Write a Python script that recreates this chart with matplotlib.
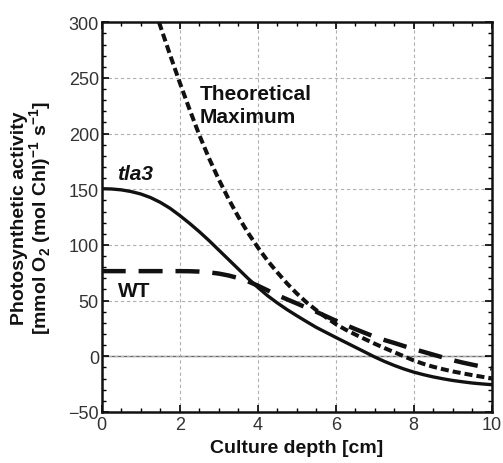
import matplotlib
matplotlib.use("Agg")
import matplotlib.pyplot as plt
from matplotlib.ticker import MultipleLocator

plt.rcParams['font.family'] = ['Liberation Sans', 'DejaVu Sans']
plt.rcParams['mathtext.fontset'] = 'custom'
plt.rcParams['mathtext.rm'] = 'Liberation Sans'
plt.rcParams['mathtext.bf'] = 'Liberation Sans:bold'

# Data
tla3_x = [0, 0.25, 0.5, 0.75, 1, 1.25, 1.5, 1.75, 2, 2.25, 2.5, 2.75, 3, 3.25, 3.5, 3.75,
          4, 4.25, 4.5, 4.75, 5, 5.25, 5.5, 5.75, 6, 6.25, 6.5, 6.75, 7, 7.25, 7.5, 7.75,
          8, 8.25, 8.5, 8.75, 9, 9.25, 9.5, 9.75, 10]
tla3_y = [150.5, 150.3, 149.5, 148, 145.8, 142.6, 138.3, 133, 126.5, 119.5, 112, 104, 95.5, 87, 78.5, 70,
          62, 54.5, 48, 42, 36.5, 31.2, 26, 21.5, 17, 12.6, 8.2, 3.8, -0.6, -4.6, -8.2, -11.4,
          -14.2, -16.5, -18.5, -20.2, -21.7, -22.9, -24, -24.8, -25.5]

wt_x = [0, 1, 2, 2.25, 2.5, 2.75, 3, 3.25, 3.5, 3.75, 4, 4.25, 4.5, 4.75, 5, 5.25, 5.5, 5.75,
        6, 6.25, 6.5, 6.75, 7, 7.25, 7.5, 7.75, 8, 8.25, 8.5, 8.75, 9, 9.25, 9.5, 9.75, 10]
wt_y = [76.5, 76.5, 76.5, 76.4, 76.1, 75.4, 74.3, 72.6, 70.3, 67.3, 63.5, 59.3, 55, 51.2, 47.5, 43.7, 40, 36,
        32, 28.2, 24.5, 21, 17.5, 14.6, 12, 9.2, 6.5, 4, 1.5, -1, -3.5, -5.6, -7.5, -9.3, -11]

theo_x = [1.47, 1.75, 2, 2.25, 2.5, 2.75, 3, 3.25, 3.5, 3.75, 4, 4.25, 4.5, 4.75, 5, 5.25, 5.5, 5.75,
          6, 6.25, 6.5, 6.75, 7, 7.25, 7.5, 7.75, 8, 8.25, 8.5, 8.75, 9, 9.25, 9.5, 9.75, 10]
theo_y = [300, 271, 246, 222, 199, 178, 159, 141.5, 125.5, 111, 98, 86, 75.5, 65.5, 56.5, 48.5, 41.5, 35,
          29, 24, 19.6, 15.4, 11.3, 7.4, 3.7, 0, -3.7, -6.8, -9.4, -11.6, -13.6, -15.3, -16.9, -18.4, -19.8]

x_ticks = [0, 2, 4, 6, 8, 10]
y_ticks = [-50, 0, 50, 100, 150, 200, 250, 300]
x_tick_labels = ['0', '2', '4', '6', '8', '10']
y_tick_labels = ['\u221250', '0', '50', '100', '150', '200', '250', '300']

fig = plt.figure(figsize=(5.03, 4.64), dpi=100)
ax = fig.add_axes([0.2022, 0.110, 0.7753, 0.8398])

ax.set_xlim(0, 10)
ax.set_ylim(-50, 300)
ax.set_xticks(x_ticks)
ax.set_yticks(y_ticks)
ax.set_xticklabels(x_tick_labels)
ax.set_yticklabels(y_tick_labels)
ax.xaxis.set_minor_locator(MultipleLocator(0.5))
ax.yaxis.set_minor_locator(MultipleLocator(10))

ax.grid(True, which='major', color='#b0b0b0', linestyle=(0, (3, 2.5)), linewidth=0.8)
ax.axhline(0, color='#666666', linewidth=1.0, zorder=1.5)

ax.plot(theo_x, theo_y, color='#111111', linewidth=2.9, linestyle=(0, (2.0, 1.0)), zorder=3)
ax.plot(wt_x, wt_y, color='#111111', linewidth=3.2, linestyle=(0, (5.4, 2.9)), zorder=3)
ax.plot(tla3_x, tla3_y, color='#111111', linewidth=2.4, linestyle='-', zorder=3)

ax.tick_params(which='both', direction='in', top=True, right=True, color='black')
ax.tick_params(which='major', length=5, width=1.2, labelsize=13, labelcolor='#333333')
ax.tick_params(axis='x', which='major', pad=3)
ax.tick_params(axis='y', which='major', pad=2)
ax.tick_params(which='minor', length=3, width=1.0)
for s in ax.spines.values():
    s.set_linewidth(1.8)
    s.set_color('#111111')

ax.text(2.52, 236, 'Theoretical', fontsize=15, fontweight='bold', va='center', ha='left', color='#111111')
ax.text(2.52, 215, 'Maximum', fontsize=15, fontweight='bold', va='center', ha='left', color='#111111')
ax.text(0.4, 164, 'tla3', fontsize=15, fontweight='bold', fontstyle='italic', va='center', ha='left', color='#111111')
ax.text(0.42, 59, 'WT', fontsize=15, fontweight='bold', va='center', ha='left', color='#111111')

ax.set_xlabel('Culture depth [cm]', fontsize=14, fontweight='bold', color='#111111', labelpad=4)
ax.set_ylabel('Photosynthetic activity\n[mmol O$_\\mathbf{2}$ (mol Chl)$^\\mathbf{-1}$ s$^\\mathbf{-1}$]',
              fontsize=14, fontweight='bold', color='#111111', labelpad=10, linespacing=1.0)

fig.savefig('out.png', dpi=100)
